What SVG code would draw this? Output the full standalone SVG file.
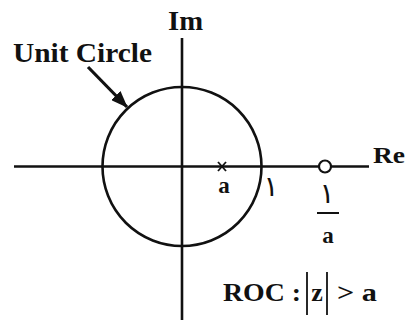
<svg xmlns="http://www.w3.org/2000/svg" width="408" height="320" viewBox="0 0 408 320">
<style>
.t{font-family:"Liberation Serif","Times New Roman",serif;font-weight:bold;fill:#111}
.ar{font-family:"DejaVu Sans",sans-serif;font-weight:normal;fill:#111}
.ln{stroke:#111;stroke-width:2.6;fill:none}
</style>
<defs>
<marker id="ah" markerWidth="17" markerHeight="13" refX="16" refY="6.5" orient="auto" markerUnits="userSpaceOnUse" viewBox="0 0 17 13">
<path d="M0,0 L17,6.5 L0,13 Z" fill="#111"/>
</marker>
</defs>
<rect width="408" height="320" fill="#fff"/>
<g id="connectors">
<line class="ln" x1="14" y1="166.5" x2="369" y2="166.5"/>
<line class="ln" x1="182" y1="38" x2="182" y2="320"/>
<line x1="88" y1="67" x2="127" y2="107" stroke="#111" stroke-width="3.2" marker-end="url(#ah)"/>
</g>
<g id="unit-circle"><circle class="ln" cx="182" cy="166.5" r="79.5"/></g>
<g id="pole">
<line x1="218" y1="162" x2="226" y2="171" stroke="#111" stroke-width="1.8"/>
<line x1="226" y1="162" x2="218" y2="171" stroke="#111" stroke-width="1.8"/>
<text class="t" x="224" y="193" font-size="23" text-anchor="middle">a</text>
</g>
<g id="zero">
<circle cx="325" cy="166.5" r="6" fill="#fff" stroke="#111" stroke-width="2.2"/>
<text class="ar" x="327" y="203" font-size="28" text-anchor="middle">١</text>
<line x1="317" y1="213" x2="339" y2="213" stroke="#111" stroke-width="2"/>
<text class="t" x="328" y="243" font-size="23" text-anchor="middle">a</text>
</g>
<g id="label-one"><text class="ar" x="271" y="196" font-size="28" text-anchor="middle">١</text></g>
<g id="label-im"><text class="t" x="168" y="30" font-size="27" textLength="35" lengthAdjust="spacingAndGlyphs">Im</text></g>
<g id="label-re"><text class="t" x="373" y="163" font-size="24" textLength="32" lengthAdjust="spacingAndGlyphs">Re</text></g>
<g id="label-unit"><text class="t" x="13" y="62" font-size="28" textLength="139" lengthAdjust="spacingAndGlyphs">Unit Circle</text></g>
<g id="roc">
<text class="t" x="223" y="301" font-size="26" textLength="78" lengthAdjust="spacingAndGlyphs">ROC :</text>
<line x1="307" y1="272" x2="307" y2="315" stroke="#111" stroke-width="1.8"/>
<text class="t" x="317" y="301" font-size="26" text-anchor="middle">z</text>
<line x1="327" y1="272" x2="327" y2="315" stroke="#111" stroke-width="1.8"/>
<text class="t" x="337" y="301" font-size="26" textLength="40" lengthAdjust="spacingAndGlyphs">&gt; a</text>
</g>
</svg>
